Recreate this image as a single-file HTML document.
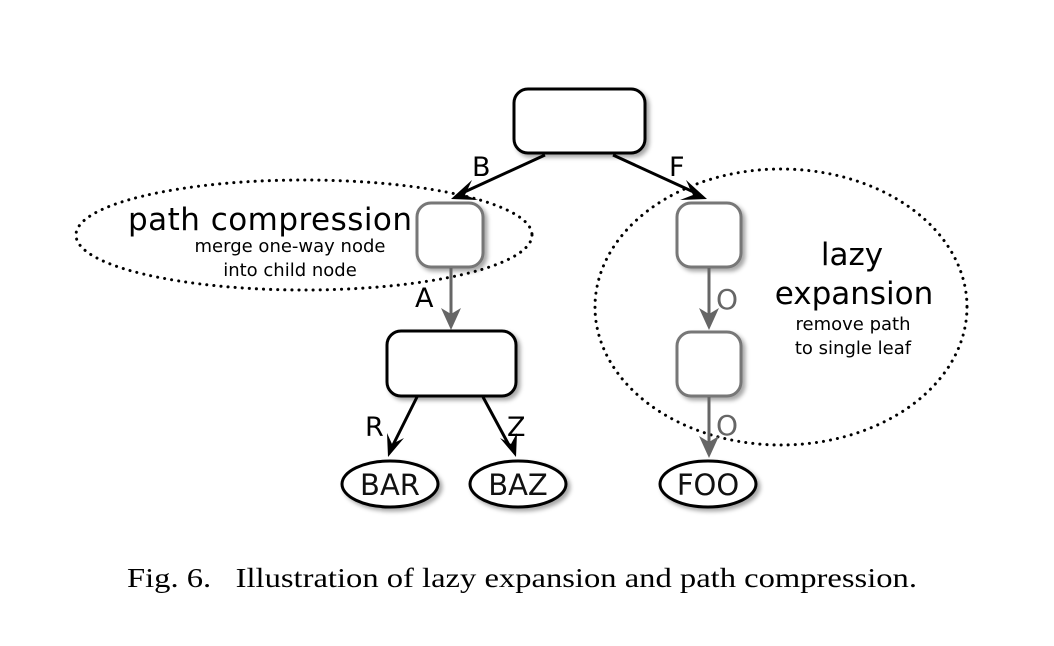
<!DOCTYPE html>
<html><head><meta charset="utf-8"><style>
html,body{margin:0;padding:0;background:#fff;width:1054px;height:646px;overflow:hidden}
svg{display:block}
.s{font-family:"DejaVu Sans","Liberation Sans",sans-serif}
</style></head><body>
<svg width="1054" height="646" viewBox="0 0 1054 646" xmlns="http://www.w3.org/2000/svg">
<defs>
<filter id="sh" x="-20%" y="-20%" width="150%" height="150%"><feDropShadow dx="3" dy="3" stdDeviation="2" flood-color="#000" flood-opacity="0.35"/></filter>
</defs>
<ellipse cx="304" cy="235" rx="228" ry="55" fill="none" stroke="#000" stroke-width="3" stroke-dasharray="0.1 7" stroke-linecap="round"/>
<ellipse cx="781" cy="307" rx="186" ry="138" fill="none" stroke="#000" stroke-width="3" stroke-dasharray="0.1 7" stroke-linecap="round"/>
<rect x="514" y="89" width="131" height="64" rx="14" fill="#fff" stroke="#000" stroke-width="3" filter="url(#sh)"/>
<rect x="417" y="203" width="66" height="64" rx="14" fill="#fff" stroke="#777" stroke-width="3" filter="url(#sh)"/>
<rect x="677" y="203" width="64" height="64" rx="14" fill="#fff" stroke="#777" stroke-width="3" filter="url(#sh)"/>
<rect x="677" y="332" width="64" height="64" rx="14" fill="#fff" stroke="#777" stroke-width="3" filter="url(#sh)"/>
<rect x="387" y="331" width="129" height="65" rx="14" fill="#fff" stroke="#000" stroke-width="3" filter="url(#sh)"/>
<ellipse cx="390" cy="484" rx="48" ry="23" fill="#fff" stroke="#000" stroke-width="3" filter="url(#sh)"/>
<ellipse cx="518" cy="484" rx="48" ry="23" fill="#fff" stroke="#000" stroke-width="3" filter="url(#sh)"/>
<ellipse cx="708" cy="484" rx="48" ry="23" fill="#fff" stroke="#000" stroke-width="3" filter="url(#sh)"/>
<g stroke="#000" stroke-width="3" fill="none">
<line x1="545" y1="155" x2="460" y2="194"/>
<line x1="613" y1="155" x2="698" y2="194"/>
<line x1="417" y1="397" x2="392" y2="447"/>
<line x1="483" y1="397" x2="510" y2="447"/>
</g>
<g fill="#000">
<polygon points="451,199 472,180 465,195 478,200"/>
<polygon points="707,199 686,180 693,195 680,200"/>
<polygon points="388,457 387,433 392,444 404,438"/>
<polygon points="516,457 517,433 511,444 500,438"/>
</g>
<g stroke="#666" stroke-width="3">
<line x1="451" y1="268" x2="451" y2="318"/>
<line x1="709" y1="268" x2="709" y2="318"/>
<line x1="709" y1="397" x2="709" y2="446"/>
</g>
<g fill="#666">
<polygon points="451,330 441,308 451,314 461,308"/>
<polygon points="709,330 699,308 709,314 719,308"/>
<polygon points="709,458 699,436 709,442 719,436"/>
</g>
<g class="s" font-size="27" fill="#000">
<text x="472" y="176">B</text>
<text x="669" y="176">F</text>
<text x="415" y="307">A</text>
<text x="365" y="436">R</text>
<text x="507" y="436">Z</text>
</g>
<g class="s" font-size="28" fill="#666">
<text x="716" y="309">O</text>
<text x="716" y="435">O</text>
</g>
<g class="s" font-size="29" fill="#111" text-anchor="middle">
<text x="390" y="495">BAR</text>
<text x="518" y="495">BAZ</text>
<text x="708" y="495">FOO</text>
</g>
<g class="s" fill="#000" text-anchor="middle">
<text x="270" y="230" font-size="31" textLength="284">path compression</text>
<text x="290" y="252" font-size="18">merge one-way node</text>
<text x="290" y="276" font-size="18">into child node</text>
<text x="852" y="265" font-size="31">lazy</text>
<text x="854" y="304" font-size="31">expansion</text>
<text x="853" y="330" font-size="18">remove path</text>
<text x="853" y="354" font-size="18">to single leaf</text>
</g>
<text x="127" y="587" font-family="'Liberation Serif',serif" font-size="27" fill="#000" textLength="790" lengthAdjust="spacingAndGlyphs">Fig. 6.&#160;&#160;&#160;Illustration of lazy expansion and path compression.</text>
</svg>
</body></html>
